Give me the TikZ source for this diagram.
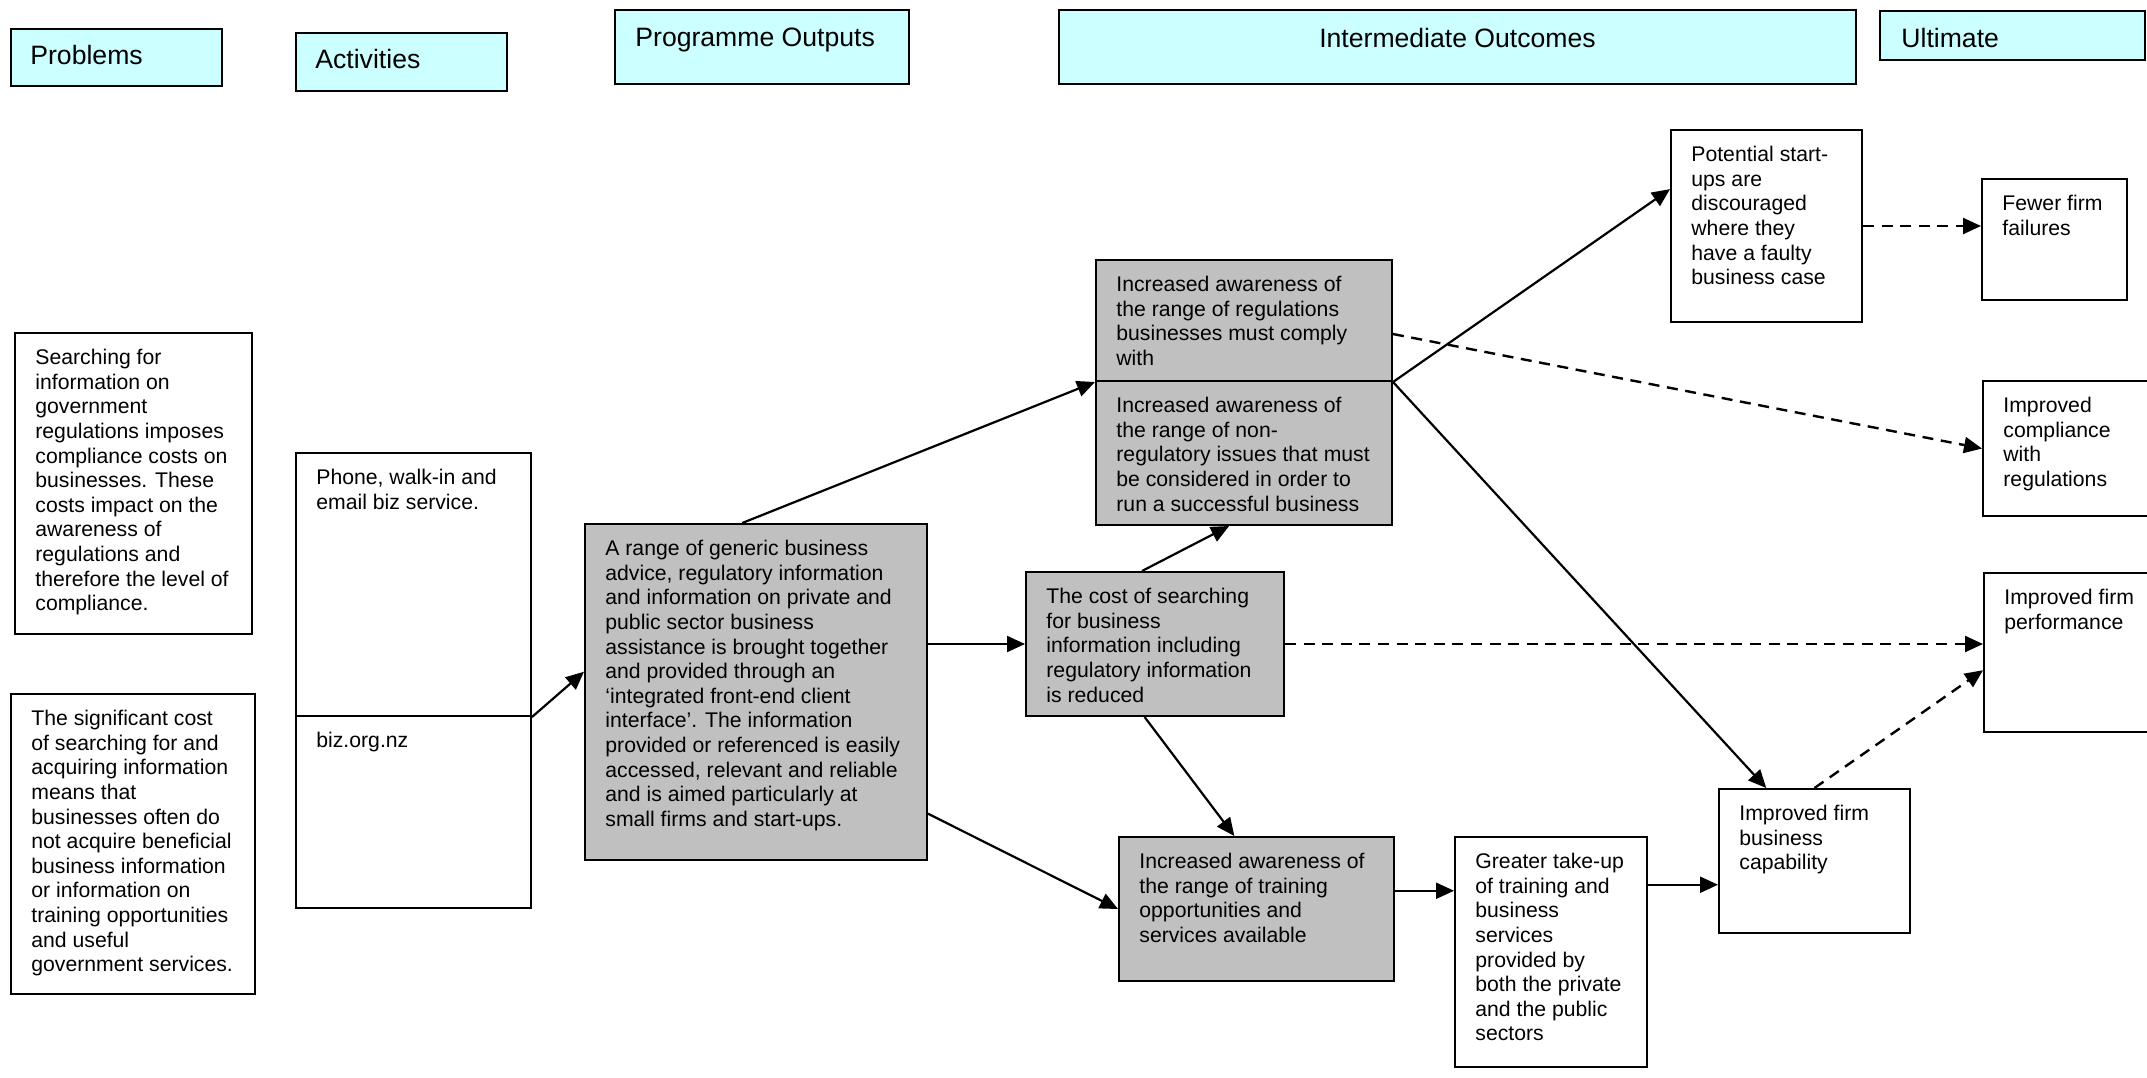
\documentclass[tikz,border=0pt]{standalone}
\usepackage{fontspec}
\setmainfont{Liberation Sans}
\usepackage{xcolor}
\usepackage{tikz}
\usetikzlibrary{arrows.meta, calc, fit}
\definecolor{hdrcyan}{RGB}{204,255,255}
\definecolor{boxgray}{RGB}{192,192,192}
\newcommand{\bodytext}{\fontsize{10.6}{12.3}\selectfont}
\newcommand{\hdrtext}{\fontsize{13.3}{16}\selectfont}
\tikzset{
  hdr/.style={draw, line width=1pt, fill=hdrcyan, inner sep=0pt},
  gbox/.style={draw, line width=1pt, fill=boxgray, inner sep=0pt},
  wbox/.style={draw, line width=1pt, fill=white, inner sep=0pt},
  txt/.style={anchor=north west, inner sep=0pt, align=left, font=\bodytext, xshift=10.5pt, yshift=-8.5pt},
  htxt/.style={inner sep=0pt, font=\hdrtext},
  arr/.style={line width=1.1pt, -{Triangle[length=9pt,width=8pt]}},
  darr/.style={arr, line width=1.2pt, dash pattern=on 5.5pt off 3.8pt}
}

\begin{document}
\begin{tikzpicture}[x=0.5pt, y=-0.5pt]
% page
\fill[white] (0,0) rectangle (2147,1077);
\useasboundingbox (0,0) rectangle (2147,1077);
\clip (0,0) rectangle (2147,1077);

% ---- column headers ----
\node[hdr, fit={(11,29) (222,86)}] (hp) {};
\node[htxt, anchor=west, xshift=10pt, yshift=1.5pt] (hpt) at (hp.west) {Problems};
\node[hdr, fit={(296,33) (507,91)}] (ha) {};
\node[htxt, anchor=west, xshift=10pt, yshift=1.5pt] (hat) at (ha.west) {Activities};
\node[hdr, fit={(615,10) (909,84)}] (ho) {};
\node[htxt, anchor=north west, xshift=10.5pt, yshift=-9.5pt] (hot) at (ho.north west) {Programme Outputs};
\node[hdr, fit={(1059,10) (1856,84)}] (hi) {};
\node[htxt, anchor=north, yshift=-9.5pt] (hit) at (hi.north) {Intermediate Outcomes};
\node[hdr, fit={(1880,11) (2145,60)}] (hu) {};
\node[htxt, anchor=north west, xshift=11pt, yshift=-9pt] (hut) at (hu.north west) {Ultimate};

% ---- problems ----
\node[wbox, fit={(15,333) (252,634)}] (pa) {};
\node[txt] (pat) at (pa.north west) {Searching for\\information on\\government\\regulations imposes\\compliance costs on\\businesses. These\\costs impact on the\\awareness of\\regulations and\\therefore the level of\\compliance.};
\node[wbox, fit={(11,694) (255,994)}] (pb) {};
\node[txt] (pbt) at (pb.north west) {The significant cost\\of searching for and\\acquiring information\\means that\\businesses often do\\not acquire beneficial\\business information\\or information on\\training opportunities\\and useful\\government services.};

% ---- activities ----
\node[wbox, fit={(296,453) (531,716)}] (acta) {};
\node[txt] (actat) at (acta.north west) {Phone, walk-in and\\email biz service.};
\node[wbox, fit={(296,716) (531,908)}] (actb) {};
\node[txt] (actbt) at (actb.north west) {biz.org.nz};

% ---- programme output ----
\node[gbox, fit={(585,524) (927,860)}] (po) {};
\node[txt] (pot) at (po.north west) {A range of generic business\\advice, regulatory information\\and information on private and\\public sector business\\assistance is brought together\\and provided through an\\‘integrated front-end client\\interface’.  The information\\provided or referenced is easily\\accessed, relevant and reliable\\and is aimed particularly at\\small firms and start-ups.};

% ---- intermediate outcomes ----
\node[gbox, fit={(1096,260) (1392,381)}] (reg) {};
\node[txt] (regt) at (reg.north west) {Increased awareness of\\the range of regulations\\businesses must comply\\with};
\node[gbox, fit={(1096,381) (1392,525)}] (nonreg) {};
\node[txt] (nonregt) at (nonreg.north west) {Increased awareness of\\the range of non-\\regulatory issues that must\\be considered in order to\\run a successful business};
\node[gbox, fit={(1026,572) (1284,716)}] (cost) {};
\node[txt] (costt) at (cost.north west) {The cost of searching\\for business\\information including\\regulatory information\\is reduced};
\node[gbox, fit={(1119,837) (1394,981)}] (train) {};
\node[txt] (traint) at (train.north west) {Increased awareness of\\the range of training\\opportunities and\\services available};
\node[wbox, fit={(1455,837) (1647,1067)}] (takeup) {};
\node[txt] (takeupt) at (takeup.north west) {Greater take-up\\of training and\\business\\services\\provided by\\both the private\\and the public\\sectors};
\node[wbox, fit={(1719,789) (1910,933)}] (cap) {};
\node[txt] (capt) at (cap.north west) {Improved firm\\business\\capability};
\node[wbox, fit={(1671,130) (1862,322)}] (startup) {};
\node[txt] (startupt) at (startup.north west) {Potential start-\\ups are\\discouraged\\where they\\have a faulty\\business case};

% ---- ultimate ----
\node[wbox, fit={(1982,179) (2127,300)}] (fewer) {};
\node[txt] (fewert) at (fewer.north west) {Fewer firm\\failures};
\node[wbox, fit={(1983,381) (2170,516)}] (compl) {};
\node[txt] (complt) at (compl.north west) {Improved\\compliance\\with\\regulations};
\node[wbox, fit={(1984,573) (2170,732)}] (perf) {};
\node[txt] (perft) at (perf.north west) {Improved firm\\performance};

% ---- connectors ----
\draw[arr] (acta.south east) -- ($(po.north west)!0.44!(po.south west)$);
\draw[arr] ($(po.north west)!0.46!(po.north east)$) -- (reg.south west);
\draw[arr] (po.east |- cost.west) -- (cost.west);
\draw[arr] ($(po.north east)!0.86!(po.south east)$) -- (train.west);
\draw[arr] ($(cost.north west)!0.45!(cost.north east)$) -- ($(nonreg.south west)!0.45!(nonreg.south east)$);
\draw[arr] ($(cost.south west)!0.46!(cost.south east)$) -- ($(train.north west)!0.42!(train.north east)$);
\draw[arr] (reg.south east) -- ($(startup.north west)!0.31!(startup.south west)$);
\draw[arr] (reg.south east) -- ($(cap.north west)!0.25!(cap.north east)$);
\coordinate (tr1) at ($(train.north east)!0.375!(train.south east)$);
\draw[arr] (tr1) -- (tr1 -| takeup.west);
\coordinate (tk1) at ($(takeup.north east)!0.21!(takeup.south east)$);
\draw[arr] (tk1) -- (tk1 -| cap.west);

% dashed links
\draw[darr] ($(reg.north east)!0.61!(reg.south east)$) -- (compl.west);
\draw[darr] (cost.east) -- (cost.east -| perf.west);
\draw[darr] ($(cap.north west)!0.5!(cap.north east)$) -- ($(perf.north west)!0.61!(perf.south west)$);
\draw[darr] (startup.east) -- (startup.east -| fewer.west);
\end{tikzpicture}
\end{document}
